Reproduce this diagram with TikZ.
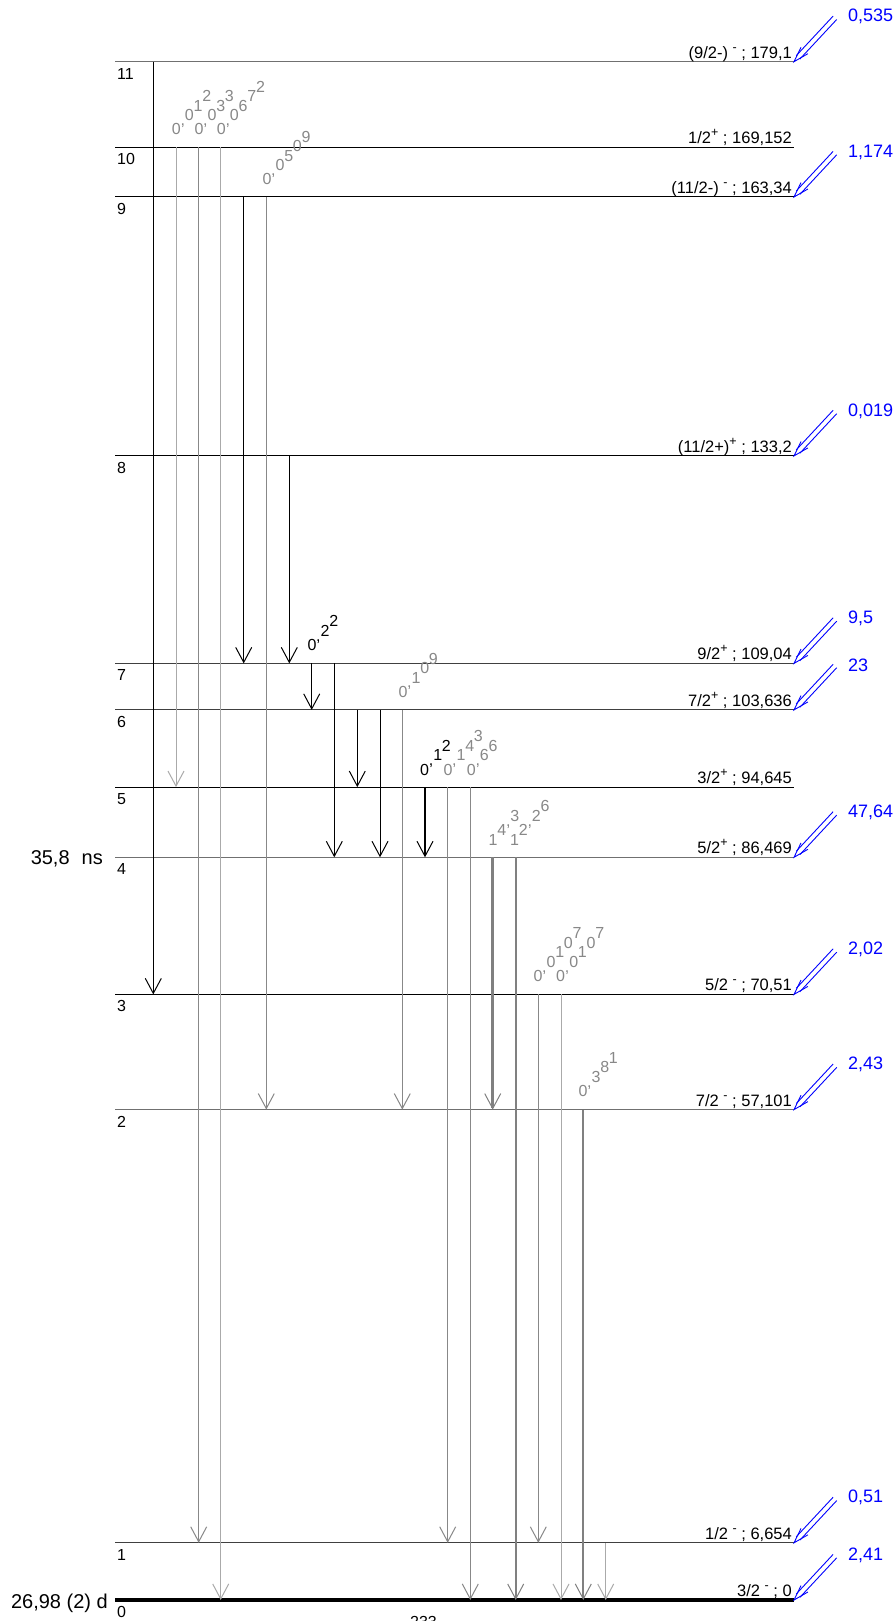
\documentclass[tikz,border=0pt]{standalone}
\usepackage{fontspec}
\setmainfont{Liberation Sans}
\usetikzlibrary{arrows.meta,calc}
\definecolor{gl}{RGB}{170,170,170}
\definecolor{gm}{RGB}{136,136,136}
\definecolor{gt}{RGB}{128,128,128}
\definecolor{gtext}{RGB}{136,136,136}
\definecolor{lvgray}{RGB}{112,112,112}
\definecolor{lvdark}{RGB}{64,64,64}
\definecolor{feedblue}{RGB}{0,0,255}
\tikzset{
  numlab/.style={inner sep=0pt,font=\fontsize{16}{18}\selectfont},
  levlab/.style={inner sep=0pt,font=\fontsize{16.5}{18}\selectfont},
  biglab/.style={inner sep=0pt,font=\fontsize{20}{22}\selectfont},
  bluelab/.style={inner sep=0pt,text=feedblue,font=\fontsize{18}{20}\selectfont},
  stairtxt/.style={inner sep=0pt,font=\fontsize{16}{17}\selectfont},
  feedc/.style={draw=feedblue,line width=0.9pt},
  vtip/.style={-{Straight Barb[length=15pt,width=16pt,line width=1pt]}},
  tb/.style={draw=black,line width=1pt,vtip},
  tbthick/.style={draw=black,line width=2.2pt,vtip},
  tl/.style={draw=gl,line width=1pt,vtip},
  tm/.style={draw=gm,line width=1pt,vtip},
  tthick/.style={draw=gt,line width=2.7pt,vtip},
  tthin/.style={draw=gt,line width=2.1pt,vtip}
}
\newcommand\spr[1]{\raisebox{0.42em}{\fontsize{12.5}{12}\selectfont #1}}
\newcommand\lvl[6]{%
  \coordinate (L#1) at (115,#2);
  \coordinate (R#1) at (794,#2);
  \draw[draw=#3,line width=#4] (L#1) -- (R#1);
  \node[numlab,anchor=base west] (n#1) at ($(L#1)+(2,17.5)$) {#5};
  \node[levlab,anchor=base east] (t#1) at ($(R#1)+(-2,-3.5)$) {#6};
}
\newcommand\feed[2]{%
  \draw[feedc] ($(R#1)+(42.7,-42.2)$) -- ($(R#1)+(5.9,-2.7)$);
  \draw[feedc] ($(R#1)+(39.1,-45.6)$) -- ($(R#1)+(2.3,-6.1)$);
  \draw[feedc] ($(R#1)+(13.9,-8.0)$) -- (R#1) -- ($(R#1)+(7.0,-14.4)$);
  \node[bluelab,anchor=west] (b#1) at ($(R#1)+(54,-45)$) {#2};
}
\newcommand\tr[4]{\draw[#4] (#1 |- L#2) -- (#1 |- L#3);}
\def\cm{,}
\newcommand\stair[5]{%
  \gdef\stacc{0}%
  \foreach \ch/\ad [count=\i] in {#5}{%
    \node[stairtxt,text=#4,anchor=base west] (#1-\i) at ({#2+\stacc*8.7},{#3-\stacc*9.5}) {\ch};
    \pgfmathparse{\stacc+\ad}\xdef\stacc{\pgfmathresult}%
  }%
}
\begin{document}
\begin{tikzpicture}[x=1pt,y=-1pt]
\useasboundingbox (0,0) rectangle (895,1621);
\fill[white] (0,0) rectangle (895,1621);

% levels
\lvl{11}{61.7}{lvgray}{1.2pt}{11}{(9/2-) \spr{-} ; 179,1}
\lvl{10}{147.2}{black}{1pt}{10}{1/2\spr{+} ; 169,152}
\lvl{9}{197}{black}{1pt}{9}{(11/2-) \spr{-} ; 163,34}
\lvl{8}{455.9}{black}{1pt}{8}{(11/2+)\spr{+} ; 133,2}
\lvl{7}{663.4}{lvdark}{1.1pt}{7}{9/2\spr{+} ; 109,04}
\lvl{6}{709.9}{lvdark}{1.1pt}{6}{7/2\spr{+} ; 103,636}
\lvl{5}{787.1}{black}{1pt}{5}{3/2\spr{+} ; 94,645}
\lvl{4}{857.3}{lvgray}{1.2pt}{4}{5/2\spr{+} ; 86,469}
\lvl{3}{994.4}{black}{1pt}{3}{5/2 \spr{-} ; 70,51}
\lvl{2}{1109.6}{lvgray}{1.2pt}{2}{7/2 \spr{-} ; 57,101}
\lvl{1}{1542.8}{lvdark}{1.1pt}{1}{1/2 \spr{-} ; 6,654}
\lvl{0}{1600}{black}{3.3pt}{0}{3/2 \spr{-} ; 0}

% transition x positions
\coordinate (Xa) at (153.3,0);
\coordinate (Xb) at (176,0);
\coordinate (Xc) at (198.7,0);
\coordinate (Xd) at (220.7,0);
\coordinate (Xe) at (243.7,0);
\coordinate (Xf) at (266.3,0);
\coordinate (Xg) at (289.3,0);
\coordinate (Xh) at (311.7,0);
\coordinate (Xi) at (334.3,0);
\coordinate (Xj) at (357.3,0);
\coordinate (Xk) at (380,0);
\coordinate (Xl) at (402.3,0);
\coordinate (Xm) at (425,0);
\coordinate (Xn) at (447.7,0);
\coordinate (Xo) at (470.3,0);
\coordinate (Xp) at (492.7,0);
\coordinate (Xq) at (515.7,0);
\coordinate (Xr) at (538.3,0);
\coordinate (Xs) at (561,0);
\coordinate (Xt) at (583.3,0);
\coordinate (Xu) at (605.7,0);

% transitions
\tr{Xa}{11}{3}{tb}
\tr{Xb}{10}{5}{tl}
\tr{Xc}{10}{1}{tm}
\tr{Xd}{10}{0}{tl}
\tr{Xe}{9}{7}{tb}
\tr{Xf}{9}{2}{tm}
\tr{Xg}{8}{7}{tb}
\tr{Xh}{7}{6}{tb}
\tr{Xi}{7}{4}{tb}
\tr{Xj}{6}{5}{tb}
\tr{Xk}{6}{4}{tb}
\tr{Xl}{6}{2}{tm}
\tr{Xm}{5}{4}{tbthick}
\tr{Xn}{5}{1}{tm}
\tr{Xo}{5}{0}{tm}
\tr{Xp}{4}{2}{tthick}
\tr{Xq}{4}{0}{tthin}
\tr{Xr}{3}{1}{tm}
\tr{Xs}{3}{0}{tl}
\tr{Xt}{2}{0}{tthin}
\tr{Xu}{1}{0}{tl}

% intensity labels (staircase)
\stair{sA}{171.7}{135}{gtext}{0/1,\cm/0.5,0/1,1/1,2/1}
\stair{sB}{194.3}{135}{gtext}{0/1,\cm/0.5,0/1,3/1,3/1}
\stair{sC}{216.7}{135}{gtext}{0/1,\cm/0.5,0/1,6/1,7/1,2/1}
\stair{sD}{262.3}{185}{gtext}{0/1,\cm/0.5,0/1,5/1,0/1,9/1}
\stair{sE}{307.3}{650.7}{black}{0/1,\cm/0.5,2/1,2/1}
\stair{sF}{398.3}{697.3}{gtext}{0/1,\cm/0.5,1/1,0/1,9/1}
\stair{sG}{420}{775}{black}{0/1,\cm/0.5,1/1,2/1}
\stair{sH}{443.3}{775}{gtext}{0/1,\cm/0.5,1/1,4/1,3/1}
\stair{sI}{466.7}{775}{gtext}{0/1,\cm/0.5,6/1,6/1}
\stair{sJ}{488.5}{845}{gtext}{1/1,4/1,\cm/0.5,3/1}
\stair{sK}{510}{845}{gtext}{1/1,2/1,\cm/0.5,2/1,6/1}
\stair{sL}{533.3}{981.7}{gtext}{0/1,\cm/0.5,0/1,1/1,0/1,7/1}
\stair{sM}{556}{981.7}{gtext}{0/1,\cm/0.5,0/1,1/1,0/1,7/1}
\stair{sN}{578.3}{1096.7}{gtext}{0/1,\cm/0.5,3/1,8/1,1/1}

% feeding
\feed{11}{0,535}
\feed{9}{1,174}
\feed{8}{0,019}
\feed{7}{9,5}
\feed{6}{23}
\feed{4}{47,64}
\feed{3}{2,02}
\feed{2}{2,43}
\feed{1}{0,51}
\feed{0}{2,41}

% side labels
\node[biglab,anchor=base east] (hl4) at ($(L4)+(-12,7.5)$) {35,8\hspace{0.6em}ns};
\node[biglab,anchor=base east] (hl0) at ($(L0)+(-7,8)$) {26,98 (2) d};
\node[numlab,anchor=base west] (mass) at (410,1627) {233};
\end{tikzpicture}
\end{document}
